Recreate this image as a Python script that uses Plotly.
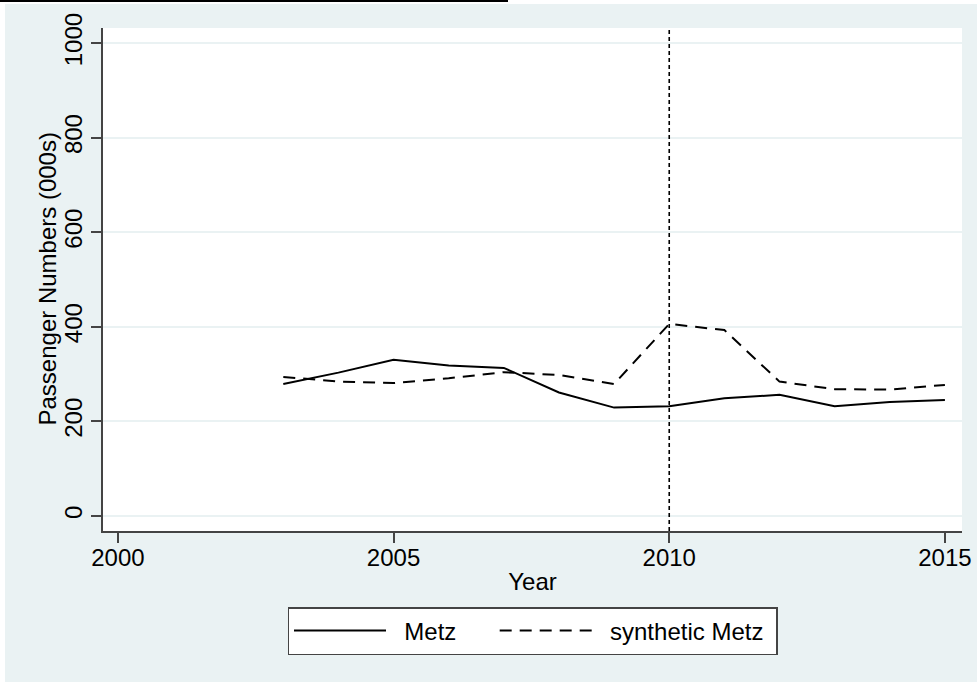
import plotly.graph_objects as go

years = [2003, 2004, 2005, 2006, 2007, 2008, 2009, 2010, 2011, 2012, 2013, 2014, 2015]
metz = [279, 303, 330, 318, 313, 261, 229, 232, 249, 256, 232, 241, 245]
synthetic_metz = [294, 284, 281, 291, 304, 298, 279, 406, 393, 284, 268, 267, 277]
series_names = ["Metz", "synthetic Metz"]
treatment_year = 2010
x_ticks = [2000, 2005, 2010, 2015]
y_ticks = [0, 200, 400, 600, 800, 1000]
y_title = "Passenger Numbers (000s)"
x_title = "Year"

BG = "#eaf2f3"
FONT = "Liberation Sans, Arial, sans-serif"
W, H = 977, 682
ML, MR, MT, MB = 103, 15, 28, 151
PW, PH = W - ML - MR, H - MT - MB
NB = "\u00a0"


def py(pix):
    return (MT + PH - pix) / PH


def px(pix):
    return (pix - ML) / PW


fig = go.Figure()
fig.add_trace(go.Scatter(x=years, y=metz, mode="lines",
                         name=NB * 2 + series_names[0] + NB * 5,
                         line=dict(color="black", width=2)))
fig.add_trace(go.Scatter(x=years, y=synthetic_metz, mode="lines",
                         name=NB * 2 + series_names[1] + NB,
                         line=dict(color="black", width=2, dash="12px,8px")))

fig.add_vline(x=treatment_year, line=dict(color="black", width=1.6, dash="4px,3px"))

# white page strips (top / left) and clipped caption underline at the very top
fig.add_shape(type="rect", xref="paper", yref="paper", x0=-0.2, x1=1.1,
              y0=py(4), y1=1.3, fillcolor="white", line_width=0, layer="above")
fig.add_shape(type="rect", xref="paper", yref="paper", x0=-0.2, x1=px(5),
              y0=-0.4, y1=1.3, fillcolor="white", line_width=0, layer="above")
fig.add_shape(type="line", xref="paper", yref="paper", x0=px(0), x1=px(508),
              y0=py(1), y1=py(1), line=dict(color="black", width=2), layer="above")

# y-axis title placed close to the tick labels, as in the Stata original
fig.add_annotation(text=y_title, textangle=-90, xref="paper", yref="paper",
                   x=px(47), xanchor="center", y=0.5, yanchor="middle",
                   showarrow=False, font=dict(family=FONT, size=24, color="black"))

tick_font = dict(family=FONT, size=24, color="black")

fig.update_layout(
    width=W, height=H,
    margin=dict(l=ML, r=MR, t=MT, b=MB, pad=0, autoexpand=False),
    paper_bgcolor=BG, plot_bgcolor="white",
    font=dict(family=FONT, size=24, color="black"),
    showlegend=True,
    legend=dict(orientation="h", x=0.5, xanchor="center", y=py(607), yanchor="top",
                bgcolor="white", bordercolor="#444", borderwidth=1.5,
                font=dict(size=24), itemwidth=92),
    xaxis=dict(range=[1999.73, 2015.31], tickmode="array", tickvals=x_ticks, tickfont=tick_font,
               showgrid=False, zeroline=False, showline=True, linecolor="#444", linewidth=1.5,
               ticks="outside", ticklen=10, tickcolor="#444", tickwidth=1.5,
               ticklabelstandoff=-6,
               title=dict(text=x_title, standoff=4, font=dict(size=24))),
    yaxis=dict(range=[-32, 1032], tickmode="array", tickvals=y_ticks, tickangle=-90,
               tickfont=tick_font,
               showgrid=True, gridcolor=BG, gridwidth=1.5, zeroline=False,
               showline=True, linecolor="#444", linewidth=1.5,
               ticks="outside", ticklen=10, tickcolor="#444", tickwidth=1.5),
)

fig.write_html("out.html", config={"displayModeBar": False},
               post_script="document.body.style.margin='0';")
